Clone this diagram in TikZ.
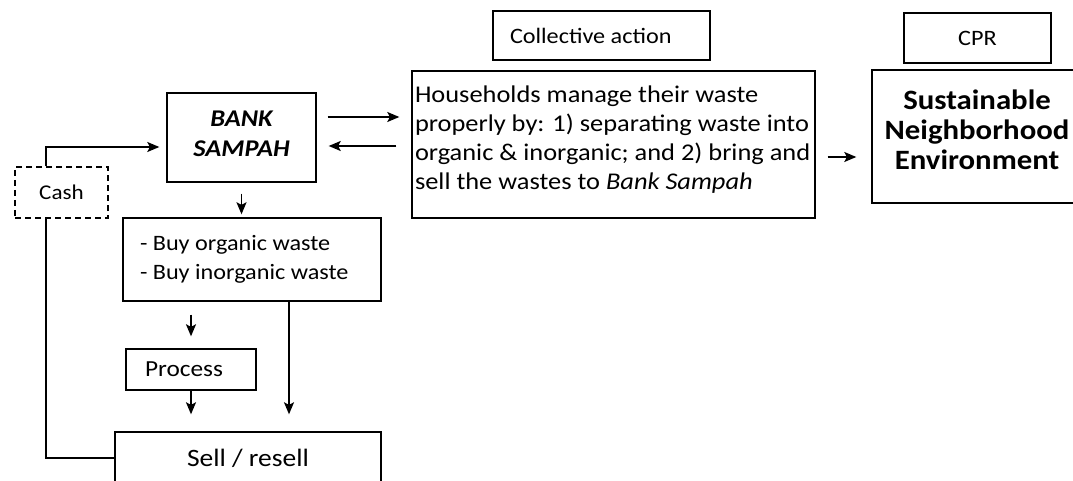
\documentclass[tikz,border=0pt]{standalone}
\usepackage{fontspec}
\setmainfont[FakeStretch=1.1]{Carlito}
\usetikzlibrary{arrows.meta}
\tikzset{box/.style={draw=black, line width=1.4pt, rectangle, inner sep=0pt, font=\fontsize{22}{29}\selectfont},
arr/.style={draw=black, line width=1.4pt, -{Stealth[length=12pt,width=10pt,inset=2.5pt]}}}
\begin{document}
\begin{tikzpicture}[x=1pt, y=-1pt]
\useasboundingbox (0,0) rectangle (1073,481);
\clip (0,0) rectangle (1073,481);
\node[box, minimum width=217pt, minimum height=49pt, inner xsep=17pt, text width=183pt, align=flush left] (collective) at (601.5,35.5) {Collective action};
\node[box, minimum width=147pt, minimum height=50pt] (cpr) at (977.5,38) {CPR};
\node[box, minimum width=403pt, minimum height=147pt, inner xsep=3pt, text width=397pt, text depth=100pt, align=flush left, font=\fontsize{24}{29}\selectfont] (house) at (613.5,144.5) {Households manage their waste\\properly by: 1) separating waste into\\organic \& inorganic; and 2) bring and\\sell the wastes to \textit{Bank Sampah}};
\node[box, minimum width=210pt, minimum height=133pt, align=center, text depth=14pt, font=\fontsize{28}{30}\selectfont\bfseries] (env) at (977,136.5) {Sustainable\\Neighborhood\\Environment};
\node[box, minimum width=149pt, minimum height=89pt, align=center, text depth=8pt, font=\fontsize{24}{30}\selectfont\bfseries\itshape] (bank) at (241.5,137.5) {BANK\\SAMPAH};
\node[box, dashed, dash pattern=on 6pt off 4pt, minimum width=93pt, minimum height=51pt, font=\fontsize{21}{29}\selectfont] (cash) at (61.5,192.5) {Cash};
\node[box, minimum width=258pt, minimum height=83pt, inner xsep=17pt, text width=224pt, align=flush left] (buy) at (252,259.5) {- Buy organic waste\\- Buy inorganic waste};
\node[box, minimum width=130pt, minimum height=41pt, inner xsep=19pt, text width=92pt, align=flush left, font=\fontsize{23}{29}\selectfont] (process) at (191,369.5) {Process};
\node[box, minimum width=266pt, minimum height=52pt, font=\fontsize{25}{29}\selectfont] (sell) at (248,458) {Sell / resell};
\draw[arr, shorten <=11pt, shorten >=12pt] ([yshift=20.5pt]bank.east) -- ([yshift=20.5pt]bank.east -| house.west);
\draw[arr, shorten <=15pt, shorten >=12pt] ([yshift=-8.5pt]bank.east -| house.west) -- ([yshift=-8.5pt]bank.east);
\draw[arr, shorten <=12pt, shorten >=15pt] ([yshift=-12.5pt]house.east) -- ([yshift=-12.5pt]house.east -| env.west);
\draw[arr, shorten <=11pt, shorten >=3pt] (bank.south) -- (bank.south |- buy.north);
\draw[arr, shorten <=13pt, shorten >=12pt] (process.north |- buy.south) -- (process.north);
\draw[arr, shorten >=17pt] (process.south) -- (process.south |- sell.north);
\draw[arr, shorten >=17pt] ([xshift=37pt]buy.south) -- ([xshift=37pt]buy.south |- sell.north);
\draw[arr, shorten >=7pt] ([xshift=-15.5pt]cash.north) |- ([yshift=-9.5pt]bank.west);
\draw[line width=1.4pt] (sell.west) -| ([xshift=-15.5pt]cash.south);
\end{tikzpicture}
\end{document}
